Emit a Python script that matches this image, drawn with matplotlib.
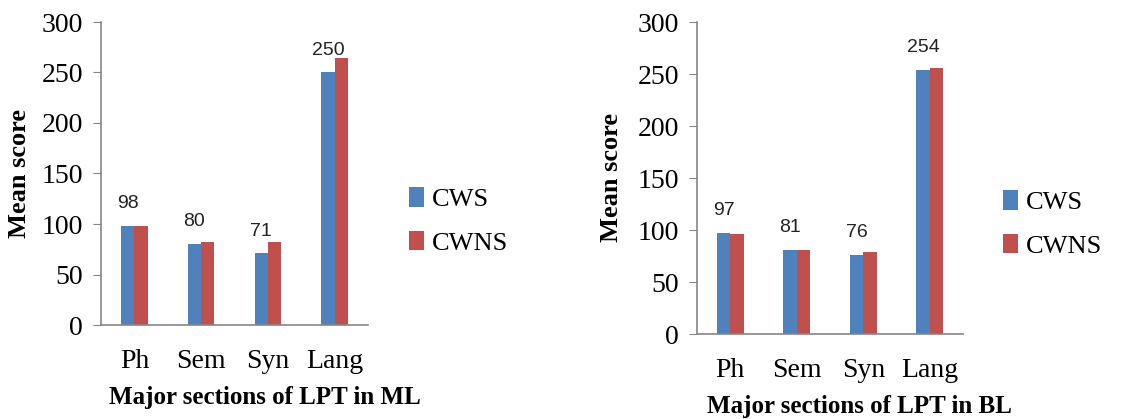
import numpy as np
import matplotlib.pyplot as plt

sections = ["Ph", "Sem", "Syn", "Lang"]
groups = ["CWS", "CWNS"]

ml_cws = [98, 80, 71, 250]
ml_cwns = [98, 82, 82, 264]
bl_cws = [97, 81, 76, 254]
bl_cwns = [96, 81, 79, 256]

W, H = 1131, 419
fig = plt.figure(figsize=(W / 100, H / 100), dpi=100)

blue = "#4F81BD"
red = "#C0504D"
axis_col = "#868686"
serif = "Liberation Serif"


def panel(rect, cws, cwns, xlab, leg_xy, lab_x, xlab_xy):
    ax = fig.add_axes(rect)
    x = np.arange(len(sections))
    ax.bar(x - 0.1, cws, width=0.2, color=blue, label=groups[0])
    ax.bar(x + 0.1, cwns, width=0.2, color=red, label=groups[1])
    for xi, v in zip(x, cws):
        ax.annotate(str(v), (xi - 0.1, v), xytext=(0, 16), textcoords="offset points",
                    ha="center", va="center", fontsize=14, family="Liberation Sans",
                    color="#222222")
    ax.set_xlim(-0.5, 3.5)
    ax.set_ylim(0, 300)
    ax.set_yticks(range(0, 301, 50))
    ax.set_xticks(x)
    ax.set_xticklabels(sections)
    ax.spines[["top", "right"]].set_visible(False)
    for s in ["left", "bottom"]:
        ax.spines[s].set_color(axis_col)
        ax.spines[s].set_linewidth(1.2)
    ax.tick_params(axis="y", direction="out", length=6, color=axis_col, pad=7,
                   labelsize=20)
    ax.tick_params(axis="x", length=0, pad=17, labelsize=20)
    for t in ax.get_xticklabels() + ax.get_yticklabels():
        t.set_family(serif)
    ax.set_xlabel(xlab, family=serif, fontsize=18, fontweight="bold")
    ax.xaxis.set_label_coords(*xlab_xy, transform=fig.transFigure)
    ax.set_ylabel("Mean score", family=serif, fontsize=19, fontweight="bold")
    yc = rect[1] + rect[3] / 2
    ax.yaxis.set_label_coords(lab_x, yc, transform=fig.transFigure)
    ax.legend(loc="center left", bbox_to_anchor=leg_xy, bbox_transform=fig.transFigure,
              frameon=False, prop={"family": serif, "size": 19}, borderpad=0,
              borderaxespad=0, handlelength=0.55, handleheight=0.75, handletextpad=0.3,
              labelspacing=0.75)
    return ax


panel([101 / W, (H - 325) / H, 267 / W, 303 / H], ml_cws, ml_cwns,
      "Major sections of LPT in ML", (409 / W, 1 - 221 / H), 31 / W,
      (265 / W, 1 - 386 / H))
panel([697 / W, (H - 334) / H, 266 / W, 312 / H], bl_cws, bl_cwns,
      "Major sections of LPT in BL", (1003 / W, 1 - 224 / H), 623 / W,
      (859 / W, 1 - 395 / H))

fig.savefig("out.png", dpi=100)
